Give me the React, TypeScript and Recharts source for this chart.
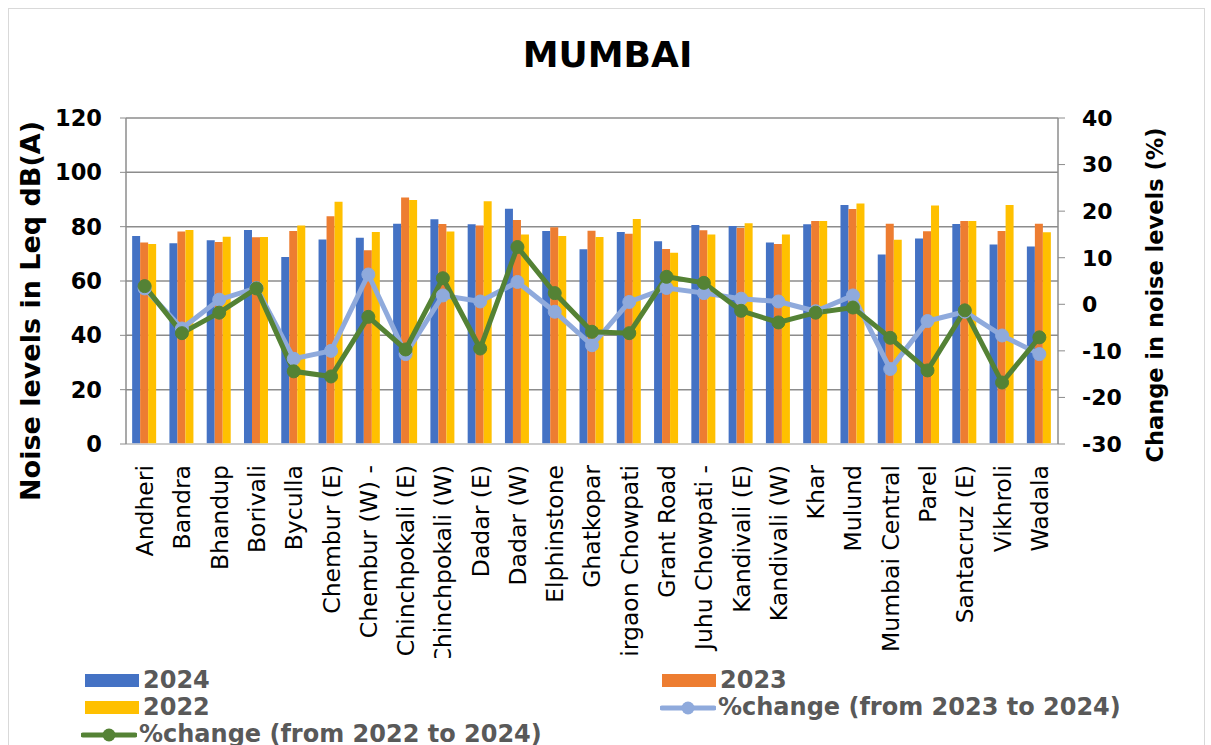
import React from "react";
import {
  Bar,
  CartesianGrid,
  ComposedChart,
  Line,
  XAxis,
  YAxis
} from "recharts";

const categories = [
  "Andheri", "Bandra", "Bhandup", "Borivali", "Byculla", "Chembur (E)",
  "Chembur (W) -", "Chinchpokali (E)", "Chinchpokali (W)", "Dadar (E)",
  "Dadar (W)", "Elphinstone", "Ghatkopar", "Girgaon Chowpati", "Grant Road",
  "Juhu Chowpati -", "Kandivali (E)", "Kandivali (W)", "Khar", "Mulund",
  "Mumbai Central", "Parel", "Santacruz (E)", "Vikhroli", "Wadala"
];

const level2024 = [76.6, 73.9, 75.0, 78.8, 68.8, 75.3, 75.9, 81.1, 82.7, 80.9, 86.6, 78.4, 71.7, 78.0, 74.6, 80.6, 80.2, 74.2, 80.9, 88.0, 69.8, 75.6, 81.0, 73.4, 72.7];
const level2023 = [74.2, 78.2, 74.4, 76.1, 78.4, 83.8, 71.3, 90.7, 81.0, 80.4, 82.5, 79.8, 78.5, 77.4, 71.8, 78.7, 79.5, 73.6, 82.1, 86.5, 81.1, 78.3, 82.1, 78.4, 81.1];
const level2022 = [73.6, 78.8, 76.3, 76.2, 80.4, 89.2, 78.0, 89.8, 78.2, 89.4, 77.1, 76.6, 76.2, 82.8, 70.4, 77.1, 81.3, 77.1, 82.1, 88.5, 75.2, 87.8, 82.1, 88.0, 77.9];
const change2023 = [3.4, -5.2, 1.0, 3.5, -11.7, -10.0, 6.4, -10.7, 1.9, 0.6, 4.8, -1.6, -8.8, 0.5, 3.5, 2.4, 1.2, 0.6, -1.5, 1.9, -13.9, -3.6, -1.6, -6.7, -10.7];
const change2022 = [3.9, -6.2, -1.8, 3.4, -14.4, -15.5, -2.7, -9.7, 5.6, -9.5, 12.3, 2.4, -5.9, -6.2, 5.9, 4.6, -1.4, -3.9, -1.8, -0.7, -7.2, -14.2, -1.3, -16.8, -7.1];

const leftTicks = [0, 20, 40, 60, 80, 100, 120];
const rightTicks = [-30, -20, -10, 0, 10, 20, 30, 40];

const BLUE = "#4472C4";
const ORANGE = "#ED7D31";
const YELLOW = "#FFC000";
const LIGHT = "#8FAADC";
const GREEN = "#548235";
const FONT = "'DejaVu Sans', Verdana, sans-serif";

const data = categories.map((name, i) => ({
  name,
  y2024: level2024[i],
  y2023: level2023[i],
  y2022: level2022[i],
  c23: change2023[i],
  c22: change2022[i]
}));

function CategoryTick({ x, y, payload }: any) {
  return (
    <g transform={`translate(${x},${y + 15})`}>
      <text
        transform="rotate(-90)"
        textAnchor="end"
        dy="0.36em"
        fontSize={23.5}
        fontFamily={FONT}
        fill="#000"
      >
        {payload.value}
      </text>
    </g>
  );
}

function LeftLabel({ viewBox }: any) {
  const cx = viewBox.x + 30;
  const cy = 311;
  return (
    <text
      transform={`translate(${cx},${cy}) rotate(-90)`}
      textAnchor="middle"
      dy="0.36em"
      fontSize={27}
      fontWeight="bold"
      fontFamily={FONT}
      fill="#000"
    >
      Noise levels in Leq dB(A)
    </text>
  );
}

function RightLabel({ viewBox }: any) {
  const cx = viewBox.x + 97;
  const cy = 295;
  return (
    <text
      transform={`translate(${cx},${cy}) rotate(-90)`}
      textAnchor="middle"
      dy="0.36em"
      fontSize={22.5}
      fontWeight="bold"
      fontFamily={FONT}
      fill="#000"
    >
      Change in noise levels (%)
    </text>
  );
}

function Swatch({ color }: { color: string }) {
  return <span style={{ display: "inline-block", width: 54, height: 13, background: color, marginRight: 4 }} />;
}

function LineSwatch({ color }: { color: string }) {
  return (
    <svg width={56} height={16} style={{ marginRight: 2 }}>
      <line x1={2} y1={8} x2={54} y2={8} stroke={color} strokeWidth={5} strokeLinecap="round" />
      <circle cx={28} cy={8} r={6.5} fill={color} />
    </svg>
  );
}

const legendText: React.CSSProperties = {
  fontFamily: FONT,
  fontWeight: "bold",
  fontSize: 24,
  color: "#595959",
  lineHeight: "27px",
  whiteSpace: "nowrap"
};

function LegendRow({ left, top, children }: any) {
  return (
    <div style={{ position: "absolute", left, top, display: "flex", alignItems: "center", height: 27, ...legendText }}>
      {children}
    </div>
  );
}

export default function App() {
  return (
    <div style={{ position: "fixed", left: 0, top: 0, width: 1211, height: 745, background: "#fff", overflow: "hidden" }}>
      <div style={{ position: "absolute", left: 8, top: 8, width: 1197, height: 760, border: "1px solid #d9d9d9", boxSizing: "border-box" }} />
      <ComposedChart
        width={1211}
        height={745}
        data={data}
        margin={{ top: 118, right: 0, bottom: 0, left: 0 }}
        barCategoryGap="16.5%"
        barGap={0}
      >
        <CartesianGrid vertical={false} stroke="#8c8c8c" strokeWidth={1.5} yAxisId="left" />
        <XAxis
          dataKey="name"
          interval={0}
          height={301}
          tick={<CategoryTick />}
          tickLine={false}
          tickMargin={0}
          axisLine={{ stroke: "#d9d9d9", strokeWidth: 1.5 }}
        />
        <YAxis
          yAxisId="left"
          width={126}
          domain={[0, 120]}
          ticks={leftTicks}
          interval={0}
          tickSize={6}
          tickMargin={18}
          tickLine={{ stroke: "#8c8c8c" }}
          axisLine={{ stroke: "#8c8c8c", strokeWidth: 1.5 }}
          tick={{ fontSize: 22.5, fontWeight: "bold", fontFamily: FONT, fill: "#000" }}
          label={<LeftLabel />}
        />
        <YAxis
          yAxisId="right"
          orientation="right"
          width={153}
          domain={[-30, 40]}
          ticks={rightTicks}
          interval={0}
          tickSize={7}
          tickMargin={17}
          tickLine={{ stroke: "#8c8c8c" }}
          axisLine={{ stroke: "#8c8c8c", strokeWidth: 1.5 }}
          tick={{ fontSize: 22, fontWeight: "bold", fontFamily: FONT, fill: "#000", textAnchor: "start" }}
          label={<RightLabel />}
        />
        <Bar yAxisId="left" dataKey="y2024" fill={BLUE} isAnimationActive={false} />
        <Bar yAxisId="left" dataKey="y2023" fill={ORANGE} isAnimationActive={false} />
        <Bar yAxisId="left" dataKey="y2022" fill={YELLOW} isAnimationActive={false} />
        <Line
          yAxisId="right"
          dataKey="c23"
          stroke={LIGHT}
          strokeWidth={5}
          dot={{ r: 6.5, fill: LIGHT, stroke: LIGHT, strokeWidth: 1 }}
          isAnimationActive={false}
        />
        <Line
          yAxisId="right"
          dataKey="c22"
          stroke={GREEN}
          strokeWidth={5}
          dot={{ r: 6.5, fill: GREEN, stroke: GREEN, strokeWidth: 1 }}
          isAnimationActive={false}
        />
      </ComposedChart>
      <div
        style={{
          position: "absolute",
          left: 0,
          right: 0,
          top: 20,
          textAlign: "center",
          fontFamily: FONT,
          fontWeight: "bold",
          fontSize: 36,
          lineHeight: "70px",
          paddingLeft: 4,
          color: "#000"
        }}
      >
        MUMBAI
      </div>
      <div style={{ position: "absolute", left: 9, right: 7, top: 658, bottom: 0, background: "#fff" }} />
      <LegendRow left={85} top={667}><Swatch color={BLUE} />2024</LegendRow>
      <LegendRow left={662} top={667}><Swatch color={ORANGE} />2023</LegendRow>
      <LegendRow left={85} top={694}><Swatch color={YELLOW} />2022</LegendRow>
      <LegendRow left={660} top={694}><LineSwatch color={LIGHT} />%change (from 2023 to 2024)</LegendRow>
      <LegendRow left={81} top={721}><LineSwatch color={GREEN} />%change (from 2022 to 2024)</LegendRow>
    </div>
  );
}
